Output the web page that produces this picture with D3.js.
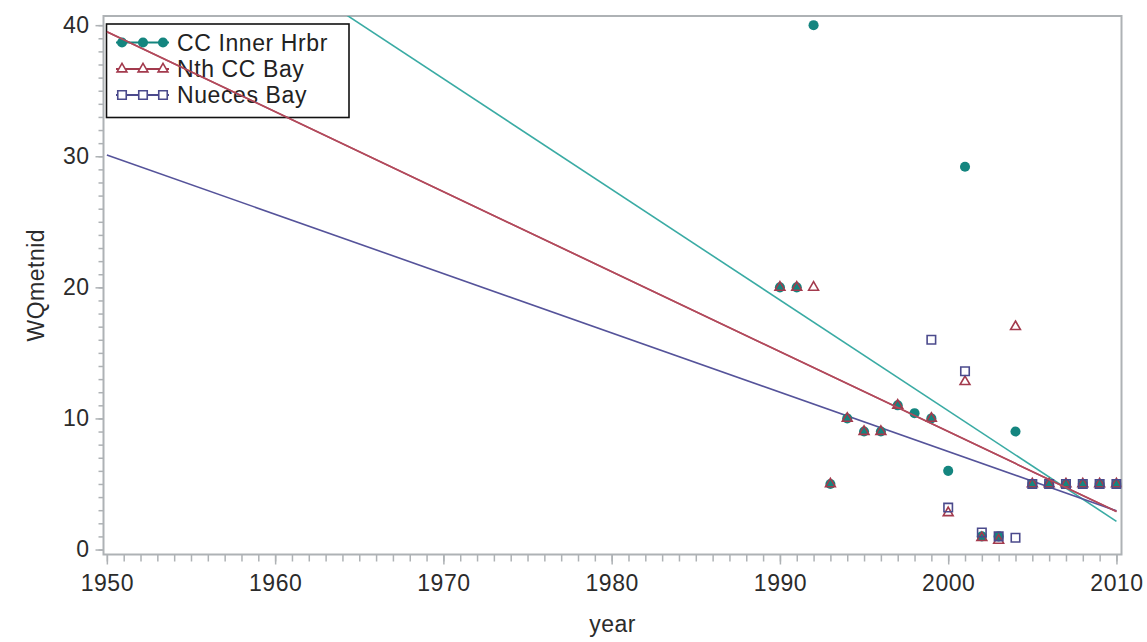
<!DOCTYPE html>
<html>
<head>
<meta charset="utf-8">
<script src="https://cdn.jsdelivr.net/npm/d3@7"></script>
<style>
  html, body { margin: 0; padding: 0; background: #fff; }
  svg { display: block; font-family: "Liberation Sans", Arial, sans-serif; }
  .tick text { fill: #2b2b2b; }
</style>
</head>
<body>
<div id="chart"></div>
<script>
  var seriesNames = ['CC Inner Hrbr', 'Nth CC Bay', 'Nueces Bay'];

  var ccYears = [1990, 1991, 1992, 1993, 1994, 1995, 1996, 1997, 1998, 1999, 2000,
    2001, 2002, 2003, 2004, 2005, 2006, 2007, 2008, 2009, 2010];
  var ccValues = [20, 20, 40, 5, 10, 9, 9, 11, 10.4, 10, 6,
    29.2, 1, 1, 9, 5, 5, 5, 5, 5, 5];

  var nthYears = [1990, 1991, 1992, 1993, 1994, 1995, 1996, 1997, 1999, 2000,
    2001, 2002, 2003, 2004, 2005, 2006, 2007, 2008, 2009, 2010];
  var nthValues = [20, 20, 20, 5, 10, 9, 9, 11, 10, 2.8,
    12.8, 0.9, 0.7, 17, 5, 5, 5, 5, 5, 5];

  var nuecesYears = [1999, 2000, 2001, 2002, 2003, 2004, 2005, 2006, 2007, 2008, 2009, 2010];
  var nuecesValues = [16, 3.2, 13.6, 1.3, 1.0, 0.9, 5, 5, 5, 5, 5, 5];

  // fitted regression lines, read at both ends of the year axis
  var fitYears = [1950, 2010];
  var ccFit = [52.8, 2.15];
  var nthFit = [39.5, 2.9];
  var nuecesFit = [30.1, 2.95];

  var xMajorTicks = [1950, 1960, 1970, 1980, 1990, 2000, 2010];
  var yMajorTicks = [0, 10, 20, 30, 40];

  var width = 1147;
  var height = 642;
  var frame = { left: 103.5, right: 1121.5, top: 16, bottom: 554.5 };

  var x = d3.scaleLinear().domain([1949.8, 2010.3]).range([frame.left, frame.right]);
  var y = d3.scaleLinear().domain([-0.38, 40.7]).range([frame.bottom, frame.top]);

  var markColor = ['#14857f', '#a33a4d', '#4b4a8c'];
  var lineColor = ['#3aaba4', '#b24a5c', '#55539a'];
  var axisColor = '#aeb2b5';
  var fontSize = 23;

  var svg = d3.select('#chart').append('svg')
    .attr('width', width)
    .attr('height', height);

  svg.append('defs').append('clipPath').attr('id', 'plot-clip')
    .append('rect')
    .attr('x', frame.left).attr('y', frame.top)
    .attr('width', frame.right - frame.left)
    .attr('height', frame.bottom - frame.top);

  // axes: minor ticks first, then majors with labels
  var xMinor = d3.range(1950, 2011);
  var yMinor = d3.range(0, 41);

  function styleAxis(g) {
    g.select('.domain').remove();
    g.selectAll('.tick line').attr('stroke', axisColor).attr('stroke-width', 1.5);
    g.selectAll('.tick text')
      .attr('font-size', fontSize)
      .style('letter-spacing', '0.5px');
  }

  svg.append('g')
    .attr('transform', 'translate(0,' + frame.bottom + ')')
    .call(d3.axisBottom(x).tickValues(xMinor).tickSize(7).tickFormat(''))
    .call(styleAxis);

  svg.append('g')
    .attr('transform', 'translate(0,' + frame.bottom + ')')
    .call(d3.axisBottom(x).tickValues(xMajorTicks).tickSize(10).tickPadding(10).tickFormat(d3.format('d')))
    .call(styleAxis);

  svg.append('g')
    .attr('transform', 'translate(' + frame.left + ',0)')
    .call(d3.axisLeft(y).tickValues(yMinor).tickSize(5).tickFormat(''))
    .call(styleAxis);

  svg.append('g')
    .attr('transform', 'translate(' + frame.left + ',0)')
    .call(d3.axisLeft(y).tickValues(yMajorTicks).tickSize(8).tickPadding(6).tickFormat(d3.format('d')))
    .call(styleAxis);

  svg.append('rect')
    .attr('x', frame.left).attr('y', frame.top)
    .attr('width', frame.right - frame.left)
    .attr('height', frame.bottom - frame.top)
    .attr('fill', 'none')
    .attr('stroke', axisColor)
    .attr('stroke-width', 2);

  svg.append('text')
    .attr('x', (frame.left + frame.right) / 2)
    .attr('y', 632)
    .attr('text-anchor', 'middle')
    .attr('font-size', fontSize)
    .attr('fill', '#2b2b2b')
    .style('letter-spacing', '0.5px')
    .text('year');

  svg.append('text')
    .attr('transform', 'translate(44,' + ((frame.top + frame.bottom) / 2) + ') rotate(-90)')
    .attr('text-anchor', 'middle')
    .attr('font-size', fontSize)
    .attr('fill', '#2b2b2b')
    .style('letter-spacing', '0.5px')
    .text('WQmetnid');

  // regression lines
  var plot = svg.append('g').attr('clip-path', 'url(#plot-clip)');
  var line = d3.line()
    .x(function (d) { return x(d[0]); })
    .y(function (d) { return y(d[1]); });

  [ccFit, nthFit, nuecesFit].forEach(function (fit, i) {
    plot.append('path')
      .datum(d3.zip(fitYears, fit))
      .attr('d', line)
      .attr('fill', 'none')
      .attr('stroke', lineColor[i])
      .attr('stroke-width', 1.6);
  });

  // markers
  var circleSym = d3.symbol().type(d3.symbolCircle).size(80);
  var triSym = d3.symbol().type(d3.symbolTriangle).size(42);
  var sqSym = d3.symbol().type(d3.symbolSquare).size(72);

  function drawMarks(g, yrs, vals, sym, i, filled) {
    g.selectAll(null)
      .data(d3.zip(yrs, vals))
      .enter().append('path')
      .attr('transform', function (d) { return 'translate(' + x(d[0]) + ',' + y(d[1]) + ')'; })
      .attr('d', sym)
      .attr('fill', filled ? markColor[i] : 'none')
      .attr('stroke', markColor[i])
      .attr('stroke-width', filled ? 0 : 1.6);
  }

  drawMarks(plot, ccYears, ccValues, circleSym, 0, true);
  drawMarks(plot, nthYears, nthValues, triSym, 1, false);
  drawMarks(plot, nuecesYears, nuecesValues, sqSym, 2, false);

  // legend
  var legend = svg.append('g');
  legend.append('rect')
    .attr('x', 106.5).attr('y', 24)
    .attr('width', 242.5).attr('height', 93.5)
    .attr('fill', 'none')
    .attr('stroke', '#111')
    .attr('stroke-width', 1.6);

  var syms = [circleSym, triSym, sqSym];
  var rowY = [42.5, 69, 95];
  var sampleX = [122, 143, 163];

  seriesNames.forEach(function (name, i) {
    var row = legend.append('g').attr('transform', 'translate(0,' + rowY[i] + ')');
    row.append('line')
      .attr('x1', 116).attr('x2', 169)
      .attr('stroke', markColor[i])
      .attr('stroke-width', 1.8);
    sampleX.forEach(function (sx) {
      row.append('path')
        .attr('transform', 'translate(' + sx + ',0)')
        .attr('d', syms[i])
        .attr('fill', i === 0 ? markColor[i] : '#fff')
        .attr('stroke', markColor[i])
        .attr('stroke-width', i === 0 ? 0 : 1.6);
    });
    row.append('text')
      .attr('x', 177)
      .attr('dy', '0.35em')
      .attr('font-size', fontSize)
      .attr('fill', '#222')
      .style('letter-spacing', '0.6px')
      .text(name);
  });

  // red fit line crosses over the legend in the reference
  svg.append('g').attr('clip-path', 'url(#plot-clip)').append('path')
    .datum(d3.zip(fitYears, nthFit))
    .attr('d', line)
    .attr('fill', 'none')
    .attr('stroke', lineColor[1])
    .attr('stroke-width', 1.6);
</script>
</body>
</html>
